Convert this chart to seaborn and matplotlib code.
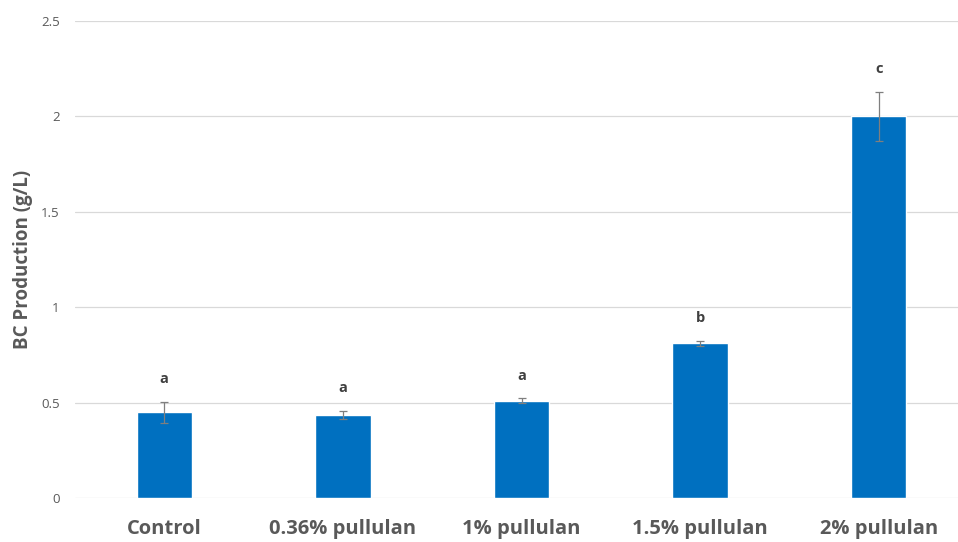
import matplotlib
matplotlib.use("Agg")
import matplotlib.pyplot as plt
import seaborn as sns
import pandas as pd

# BC production per pullulan treatment
treatments = ["Control", "0.36% pullulan", "1% pullulan", "1.5% pullulan", "2% pullulan"]
production = [0.45, 0.435, 0.51, 0.81, 2.00]
std_err = [0.055, 0.022, 0.012, 0.013, 0.13]
groups = ["a", "a", "a", "b", "c"]
y_ticks = [0, 0.5, 1, 1.5, 2, 2.5]
y_tick_labels = ["0", "0.5", "1", "1.5", "2", "2.5"]

df = pd.DataFrame({"treatment": treatments, "production": production})

sns.set_theme(style="white")
plt.rcParams["font.family"] = ["Open Sans", "DejaVu Sans"]

text_color = "#595959"
bar_color = "#0070C0"

fig = plt.figure(figsize=(9.58, 5.42), dpi=100)
ax = fig.add_axes([75 / 958, (542 - 498) / 542, (968 - 75) / 958, (498 - 21) / 542])

sns.barplot(data=df, x="treatment", y="production", color=bar_color,
            width=0.31, saturation=1, errorbar=None, ax=ax, zorder=3)

positions = range(len(treatments))
ax.errorbar(list(positions), production, yerr=std_err, fmt="none",
            ecolor="#7f7f7f", elinewidth=0.9, capsize=3, capthick=0.9, zorder=4)

for i, (val, err, g) in enumerate(zip(production, std_err, groups)):
    ax.text(i, val + err + 0.12, g, ha="center", va="center",
            fontsize=10.5, fontweight="bold", color="#404040")

ax.set_ylim(0, 2.5)
ax.set_xlim(-0.5, len(treatments) - 0.5)
ax.set_yticks(y_ticks)
ax.set_yticklabels(y_tick_labels)
ax.yaxis.grid(True, color="#D9D9D9", linewidth=0.9, zorder=0)
ax.xaxis.grid(False)
for side in ["top", "right", "left", "bottom"]:
    ax.spines[side].set_visible(False)

ax.tick_params(axis="y", length=0, pad=11, labelsize=9.5, labelcolor=text_color)
ax.tick_params(axis="x", length=0, pad=15, labelsize=14.5, labelcolor=text_color)
for lbl in ax.get_xticklabels():
    lbl.set_fontweight("bold")

ax.set_xlabel("")
ax.set_ylabel("BC Production (g/L)", fontsize=13.5, fontweight="bold",
              color=text_color)
ax.yaxis.set_label_coords(-0.047, 0.5)

fig.savefig("out.png", dpi=100)
